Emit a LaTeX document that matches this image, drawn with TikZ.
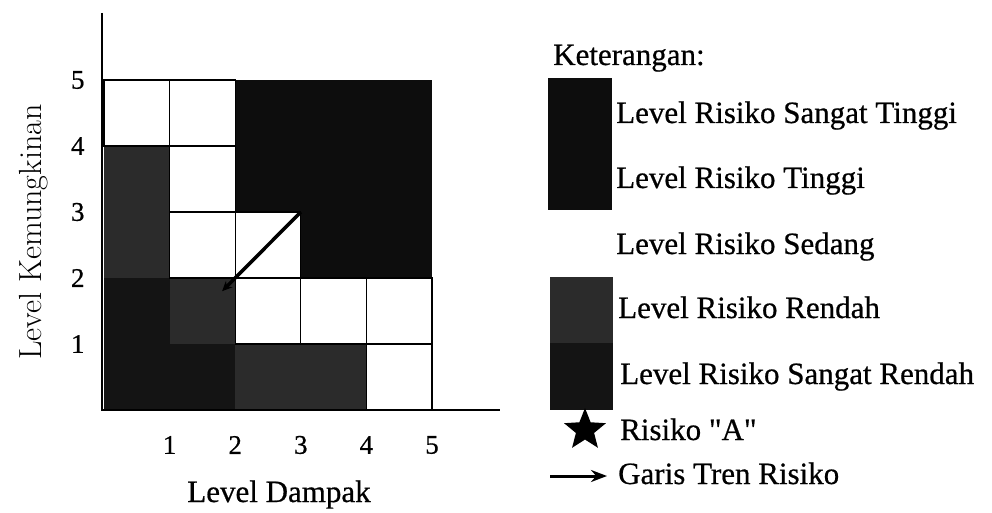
\documentclass[tikz,border=0pt]{standalone}
\usepackage{fontspec}
\newfontfamily\legfont[FakeBold=0.6]{Liberation Serif}
\usetikzlibrary{arrows.meta,shapes.geometric}

\definecolor{stinggi}{gray}{0.05}
\definecolor{rendah}{gray}{0.17}
\definecolor{srendah}{gray}{0.08}

\begin{document}
\begin{tikzpicture}[x=1pt,y=1pt,
  cell/.style={draw=black, line width=1.3pt},
  axis/.style={line width=2.8pt},
  tick/.style={font=\legfont\fontsize{27}{30}\selectfont},
  legtext/.style={anchor=base west, inner sep=0pt, font=\legfont\fontsize{31}{36}\selectfont},
  trend/.style={line width=3.5pt, -{Stealth[length=10pt,width=9pt]}}]

\useasboundingbox (0,0) rectangle (992,512);

% matrix
\begin{scope}[shift={(104,102)}, x=65.6pt, y=66pt]
  \foreach \c/\r/\f in {1/1/srendah, 2/1/srendah, 3/1/rendah, 4/1/rendah,
     1/2/srendah, 2/2/rendah,
     1/3/rendah, 4/3/stinggi, 5/3/stinggi,
     1/4/rendah, 3/4/stinggi, 4/4/stinggi, 5/4/stinggi,
     3/5/stinggi, 4/5/stinggi, 5/5/stinggi}
    \fill[\f] (\c-1,\r-1) rectangle (\c,\r);
  % white cells (Sedang)
  \foreach \c/\r in {5/1, 3/2, 4/2, 5/2, 2/3, 3/3, 2/4, 1/5, 2/5}
    \draw[cell, fill=white] (\c-1,\r-1) rectangle (\c,\r);

  \foreach \i in {1,...,5} {
    \node[tick] (x\i) at (\i,-0.53) {\i};
    \node[tick] (y\i) at (-0.4,\i) {\i};
  }

  \coordinate (t0) at (3,3);
  \coordinate (t1) at (1.8,1.8);
  \draw[trend] (t0) -- (t1);
\end{scope}

% axes
\coordinate (o) at (102,102);
\coordinate (ytop) at (102,499);
\coordinate (xend) at (500,102);
\draw[axis] (ytop) -- (o) -- (xend);

\node[legtext, anchor=base] (xlab) at (279,10) {Level Dampak};
\node[rotate=90, font=\fontsize{32}{36}\selectfont\addfontfeature{LetterSpace=8}] (ylab) at (34,280) {Level Kemungkinan};

% legend
\node[legtext] (ket) at (553,447) {Keterangan:};
\fill[stinggi] (548,302) rectangle (612,434);
\fill[rendah] (550,169) rectangle (613,235);
\fill[srendah] (550,102) rectangle (613,169);

\node[legtext] (l1) at (616,389) {Level Risiko Sangat Tinggi};
\node[legtext] (l2) at (616,324) {Level Risiko Tinggi};
\node[legtext] (l3) at (616,258) {Level Risiko Sedang};
\node[legtext] (l4) at (618,194) {Level Risiko Rendah};
\node[legtext] (l5) at (620,128) {Level Risiko Sangat Rendah};

\node[star, star points=5, star point ratio=2.3, fill=black, minimum size=44pt, inner sep=0pt] (stara) at (585,82) {};
\node[legtext] (l6) at (620,72) {Risiko "A"};

\coordinate (a0) at (550,36);
\coordinate (a1) at (607,36);
\draw[line width=3pt, -{Stealth[length=16pt,width=12pt]}] (a0) -- (a1);
\node[legtext] (l7) at (618,28) {Garis Tren Risiko};
\end{tikzpicture}
\end{document}
